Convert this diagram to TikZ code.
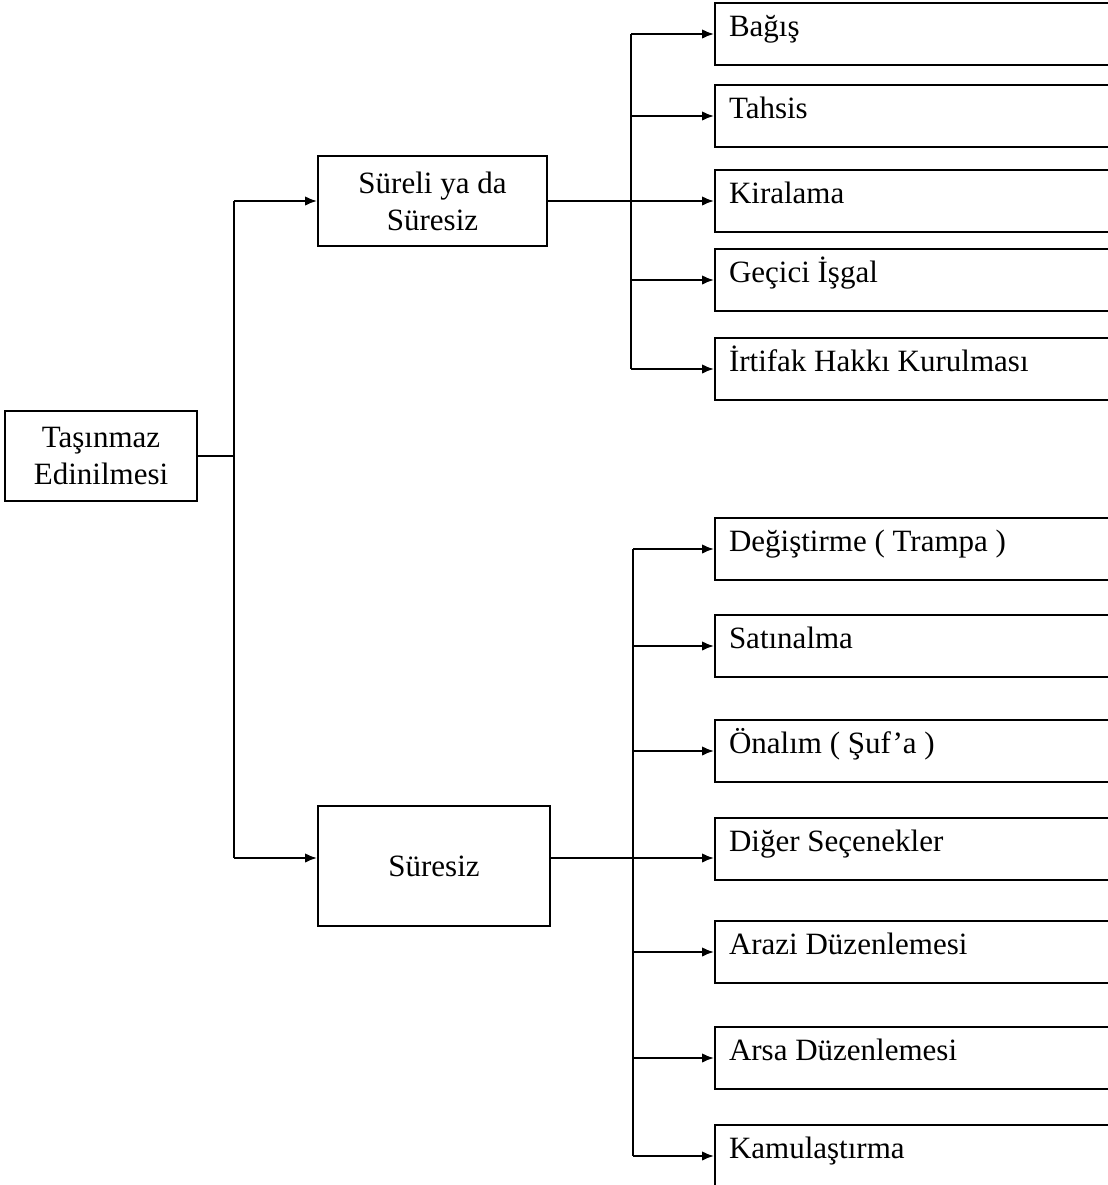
\documentclass[tikz,border=0pt]{standalone}
\usepackage{fontspec}
\setmainfont{Liberation Serif}
\usetikzlibrary{arrows.meta,calc}
\begin{document}
\begin{tikzpicture}[x=0.5pt,y=-0.5pt,
  every node/.style={font=\fontsize{15.5}{18.5}\selectfont},
  ln/.style={line width=1pt},
  arr/.style={ln,-{Latex[length=6pt,width=4.8pt]}},
  lbox/.style={draw,line width=1pt,align=center,inner sep=0pt},
  rbox/.style={draw,line width=1pt,anchor=west,minimum width=220pt,minimum height=31pt,
     text width=206pt,inner xsep=7pt,inner ysep=0pt,align=flush left,text height=8pt,text depth=6pt}]
\useasboundingbox (0,0) rectangle (1108,1185);
\clip (0,0) rectangle (1108,1185);
% left boxes
\node[lbox,minimum width=96pt,minimum height=45pt] (root) at (101,456) {Taşınmaz\\Edinilmesi};
\node[lbox,minimum width=114.5pt,minimum height=45pt] (sureli) at (432.5,201) {Süreli ya da\\Süresiz};
\node[lbox,minimum width=116pt,minimum height=60pt] (suresiz) at (434,866) {Süresiz};
% right top boxes
\node[rbox] (b1) at (714,34) {Bağış};
\node[rbox] (b2) at (714,116) {Tahsis};
\node[rbox] (b3) at (714,201) {Kiralama};
\node[rbox] (b4) at (714,280) {Geçici İşgal};
\node[rbox] (b5) at (714,369) {İrtifak Hakkı Kurulması};
% right bottom boxes
\node[rbox] (c1) at (714,549) {Değiştirme ( Trampa )};
\node[rbox] (c2) at (714,646) {Satınalma};
\node[rbox] (c3) at (714,751) {Önalım ( Şuf’a )};
\node[rbox] (c4) at (714,849) {Diğer Seçenekler};
\node[rbox] (c5) at (714,952) {Arazi Düzenlemesi};
\node[rbox] (c6) at (714,1058) {Arsa Düzenlemesi};
\node[rbox] (c7) at (714,1156) {Kamulaştırma};
% trunk
\coordinate (ta) at (234,201);
\coordinate (tb) at (234,858);
\draw[ln] (ta) -- (tb);
\draw[ln] (root.east) -- (root.east -| ta);
\draw[arr] (ta) -- (sureli.west);
\draw[arr] (tb) -- (tb -| suresiz.west);
% top fan
\coordinate (u) at (631,0);
\draw[ln] (u |- b1.west) -- (u |- b5.west);
\draw[ln] (sureli.east) -- (u |- sureli.east);
\foreach \n in {b1,b2,b3,b4,b5}{\draw[arr] (u |- \n.west) -- (\n.west);}
% bottom fan
\coordinate (v) at (633,0);
\draw[ln] (v |- c1.west) -- (v |- c7.west);
\draw[ln] (suresiz.east |- tb) -- (v |- tb);
\draw[arr] (v |- tb) -- (c4.west |- tb);
\foreach \n in {c1,c2,c3,c5,c6,c7}{\draw[arr] (v |- \n.west) -- (\n.west);}
\end{tikzpicture}
\end{document}
